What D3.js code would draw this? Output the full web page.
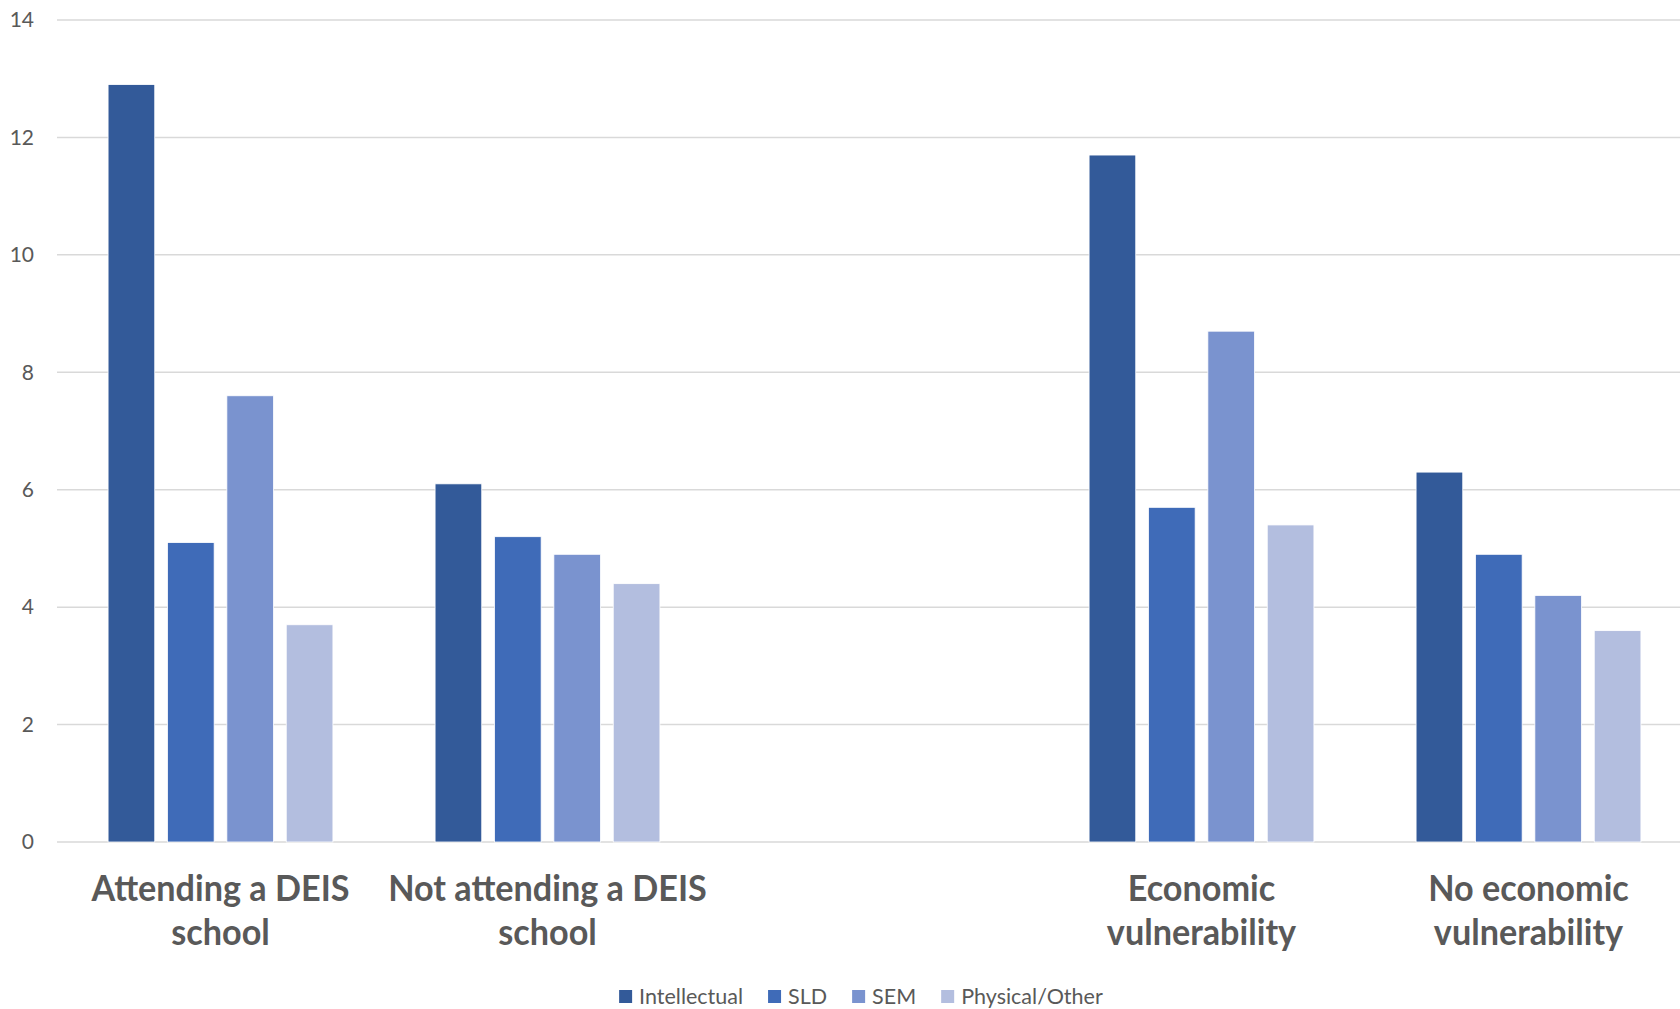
<!DOCTYPE html>
<html>
<head>
<meta charset="utf-8">
<script src="https://cdn.jsdelivr.net/npm/d3@7"></script>
<style>
  html, body { margin: 0; padding: 0; background: #fff; }
  svg { display: block; }
</style>
</head>
<body>
<svg id="chart" width="1680" height="1009"></svg>
<script>
// ---- data ----
const categories = [
  ["Attending a DEIS", "school"],
  ["Not attending a DEIS", "school"],
  [],
  ["Economic", "vulnerability"],
  ["No economic", "vulnerability"]
];
const seriesNames = ["Intellectual", "SLD", "SEM", "Physical/Other"];
const intellectual = [12.9, 6.1, null, 11.7, 6.3];
const sld          = [5.1, 5.2, null, 5.7, 4.9];
const sem          = [7.6, 4.9, null, 8.7, 4.2];
const physical     = [3.7, 4.4, null, 5.4, 3.6];
const yTicks = [0, 2, 4, 6, 8, 10, 12, 14];
const colors = ["#335A99", "#3F6BB8", "#7A93CF", "#B3BEDF"];

const seriesValues = [intellectual, sld, sem, physical];

// ---- layout ----
const svg = d3.select("#chart");
const plotLeft = 57, plotRight = 1692, plotTop = 20, plotBottom = 842;

const x0 = d3.scaleBand().domain(d3.range(categories.length)).range([plotLeft, plotRight]).padding(0);
const x1 = d3.scaleBand().domain(d3.range(seriesNames.length))
  .range([0, x0.bandwidth()]).paddingInner(0.214).paddingOuter(0.86);
const y = d3.scaleLinear().domain([0, 14]).range([plotBottom, plotTop]);

// gridlines
svg.append("g").selectAll("line").data(yTicks).join("line")
  .attr("x1", plotLeft).attr("x2", plotRight)
  .attr("y1", d => y(d)).attr("y2", d => y(d))
  .attr("stroke", "#d9d9d9").attr("stroke-width", 1.5);

// y tick labels
svg.append("g").selectAll("text").data(yTicks).join("text")
  .attr("x", 34).attr("y", d => y(d)).attr("dy", "0.35em")
  .attr("text-anchor", "end")
  .attr("font-family", "Lato, 'Open Sans', sans-serif")
  .attr("font-size", 21).attr("fill", "#595959")
  .text(d => d);

// bars
const barData = [];
seriesValues.forEach((vals, s) => vals.forEach((v, c) => {
  if (v != null) barData.push({ s, c, v });
}));
svg.append("g").selectAll("rect").data(barData).join("rect")
  .attr("x", d => x0(d.c) + x1(d.s))
  .attr("width", x1.bandwidth())
  .attr("y", d => y(d.v))
  .attr("height", d => y(0) - y(d.v))
  .attr("fill", d => colors[d.s])
  .attr("stroke", "#ffffff").attr("stroke-width", 0.8);

// category labels
const catG = svg.append("g");
categories.forEach((lines, i) => {
  const cx = x0(i) + x0.bandwidth() / 2;
  lines.forEach((ln, j) => {
    catG.append("text")
      .attr("transform", `translate(${cx},${901 + j * 44}) scale(0.95,1)`)
      .attr("text-anchor", "middle")
      .attr("font-family", "Lato, 'Open Sans', sans-serif")
      .attr("font-weight", "bold")
      .attr("font-size", 36).attr("fill", "#595959")
      .text(ln);
  });
});

// legend
const legend = svg.append("g");
const items = legend.selectAll("g").data(seriesNames).join("g");
items.append("rect").attr("width", 13).attr("height", 13).attr("y", -6.5)
  .attr("fill", (d, i) => colors[i]);
items.append("text").attr("x", 20).attr("dy", "0.35em")
  .attr("font-family", "Lato, 'Open Sans', sans-serif")
  .attr("font-size", 21.5).attr("fill", "#595959")
  .text(d => d);
let widths = [];
items.each(function () { widths.push(this.getBBox().width); });
const gap = 25;
const total = d3.sum(widths) + gap * (widths.length - 1);
let cursor = 861 - total / 2;
items.attr("transform", (d, i) => {
  const t = `translate(${cursor},996.5)`;
  cursor += widths[i] + gap;
  return t;
});
</script>
</body>
</html>
